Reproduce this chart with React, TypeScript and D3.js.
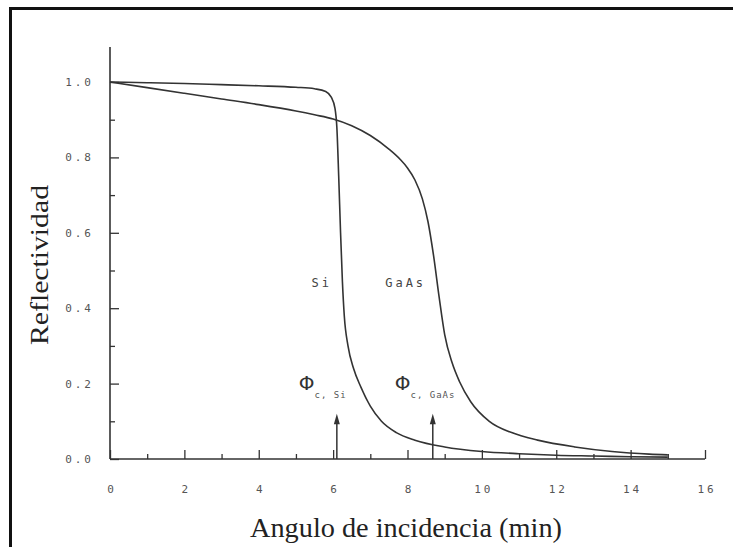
import React, { useEffect, useRef } from 'react';
import * as d3 from 'd3';

// Si curve (angle in min, reflectivity)
const siAngle = [0, 1, 2, 3, 4, 5, 5.5, 5.8, 5.95, 6.05, 6.1, 6.15, 6.2, 6.25, 6.3, 6.4, 6.55, 6.75, 7.0, 7.3, 7.7, 8.2, 9.0, 10, 11, 12, 13, 14, 15];
const siRefl = [1.0, 0.998, 0.996, 0.993, 0.99, 0.986, 0.982, 0.975, 0.96, 0.93, 0.88, 0.75, 0.6, 0.47, 0.38, 0.3, 0.24, 0.19, 0.14, 0.1, 0.07, 0.05, 0.032, 0.02, 0.014, 0.01, 0.008, 0.006, 0.005];

// GaAs curve
const gaasAngle = [0, 1, 2, 3, 4, 5, 5.5, 6, 6.5, 7, 7.5, 7.8, 8.0, 8.2, 8.4, 8.55, 8.7, 8.85, 9.0, 9.2, 9.4, 9.7, 10.2, 10.8, 11.5, 12.5, 13.5, 14.5, 15];
const gaasRefl = [1.0, 0.985, 0.97, 0.955, 0.94, 0.923, 0.913, 0.902, 0.884, 0.858, 0.822, 0.795, 0.772, 0.74, 0.69, 0.63, 0.54, 0.43, 0.33, 0.255, 0.205, 0.152, 0.1, 0.07, 0.05, 0.032, 0.02, 0.013, 0.011];

const xTicks = [0, 2, 4, 6, 8, 10, 12, 14, 16];
const xMinor = [1, 3, 5, 7, 9, 11, 13, 15];
const yTicks = [0, 0.2, 0.4, 0.6, 0.8, 1.0];
const yMinor = [0.1, 0.3, 0.5, 0.7, 0.9];

// critical angles (arrows)
const criticalAngles = [6.1, 8.68];
const criticalSubs = ['c, Si', 'c, GaAs'];

const W = 733;
const H = 547;

const App = () => {
  const ref = useRef<SVGSVGElement>(null);

  useEffect(() => {
    const svg = d3.select(ref.current);
    svg.selectAll('*').remove();

    const x = d3.scaleLinear().domain([0, 16]).range([110, 705]);
    const y = d3.scaleLinear().domain([0, 1]).range([459, 82]);
    const ink = '#333';

    //frame
    svg
      .append('rect')
      .attr('x', 10.5)
      .attr('y', 8.5)
      .attr('width', 760)
      .attr('height', 600)
      .attr('fill', 'none')
      .attr('stroke', '#111')
      .attr('stroke-width', 3);

    //x axis
    const gx = svg.append('g').attr('transform', `translate(0,${y(0)})`);
    gx.call(
      d3.axisBottom(x).tickValues(xTicks).tickSize(-9).tickPadding(26).tickFormat(d3.format('d'))
    );
    gx.append('g').call(d3.axisBottom(x).tickValues(xMinor).tickSize(-5).tickFormat(() => ''));
    gx.selectAll('.tick text').attr('dx', 1.5);

    //y axis
    const gy = svg.append('g').attr('transform', `translate(${x(0)},0)`);
    gy.call(
      d3.axisLeft(y).tickValues(yTicks).tickSize(-9).tickPadding(16).tickFormat(d3.format('.1f'))
    );
    gy.append('g').call(d3.axisLeft(y).tickValues(yMinor).tickSize(-5).tickFormat(() => ''));

    svg.selectAll('.domain').remove();
    svg.selectAll('.tick line').attr('stroke', ink).attr('stroke-width', 1.3);
    svg
      .selectAll('.tick text')
      .attr('fill', '#555')
      .attr('font-family', 'DejaVu Sans Mono')
      .attr('font-size', 11)
      .attr('letter-spacing', 3);

    svg
      .append('line')
      .attr('x1', x(0))
      .attr('x2', x(16))
      .attr('y1', y(0))
      .attr('y2', y(0))
      .attr('stroke', ink)
      .attr('stroke-width', 1.6);
    svg
      .append('line')
      .attr('x1', x(0))
      .attr('x2', x(0))
      .attr('y1', y(0))
      .attr('y2', y(1.093))
      .attr('stroke', ink)
      .attr('stroke-width', 1.6);

    //curves
    const line = d3
      .line<number[]>()
      .x((d) => x(d[0]))
      .y((d) => y(d[1]))
      .curve(d3.curveMonotoneX);

    const si = siAngle.map((a, i) => [a, siRefl[i]]);
    const gaas = gaasAngle.map((a, i) => [a, gaasRefl[i]]);
    [si, gaas].forEach((pts) => {
      svg
        .append('path')
        .datum(pts)
        .attr('d', line as any)
        .attr('fill', 'none')
        .attr('stroke', ink)
        .attr('stroke-width', 1.6);
    });

    //labels
    svg
      .append('text')
      .attr('x', x(5.42))
      .attr('y', y(0.455))
      .attr('font-family', 'DejaVu Sans Mono')
      .attr('font-size', 12)
      .attr('letter-spacing', 3)
      .attr('fill', '#444')
      .text('Si');
    svg
      .append('text')
      .attr('x', x(7.4))
      .attr('y', y(0.455))
      .attr('font-family', 'DejaVu Sans Mono')
      .attr('font-size', 12)
      .attr('letter-spacing', 3)
      .attr('fill', '#444')
      .text('GaAs');

    //arrows and phi labels
    criticalAngles.forEach((a, i) => {
      svg
        .append('line')
        .attr('x1', x(a))
        .attr('x2', x(a))
        .attr('y1', y(0))
        .attr('y2', y(0.1))
        .attr('stroke', ink)
        .attr('stroke-width', 1.5);
      svg
        .append('path')
        .attr('d', `M${x(a)},${y(0.12)} L${x(a) - 3},${y(0.1) + 3} L${x(a) + 3},${y(0.1) + 3} Z`)
        .attr('fill', ink);
      const t = svg
        .append('text')
        .attr('x', x(a) - 38)
        .attr('y', y(0.2) + 6)
        .attr('font-family', 'DejaVu Sans')
        .attr('font-size', 20)
        .attr('fill', '#333');
      t.append('tspan').text('Φ');
      t.append('tspan')
        .attr('dy', 8)
        .attr('font-family', 'DejaVu Sans Mono')
        .attr('font-size', 9)
        .attr('letter-spacing', 1)
        .attr('fill', '#555')
        .text(criticalSubs[i]);
    });

    //axis titles
    svg
      .append('text')
      .attr('x', 250)
      .attr('y', 537)
      .attr('font-family', 'Liberation Serif')
      .attr('font-size', 27)
      .attr('textLength', 312)
      .attr('lengthAdjust', 'spacingAndGlyphs')
      .attr('fill', '#222')
      .text('Angulo de incidencia (min)');
    svg
      .append('text')
      .attr('transform', 'translate(48,345) rotate(-90)')
      .attr('font-family', 'Liberation Serif')
      .attr('font-size', 25)
      .attr('textLength', 160)
      .attr('lengthAdjust', 'spacingAndGlyphs')
      .attr('fill', '#222')
      .text('Reflectividad');
  });

  return (
    <div>
      <svg
        ref={ref}
        width={W}
        height={H}
        style={{ position: 'absolute', left: 0, top: 0, background: '#fff' }}
      ></svg>
    </div>
  );
};

export default App;
